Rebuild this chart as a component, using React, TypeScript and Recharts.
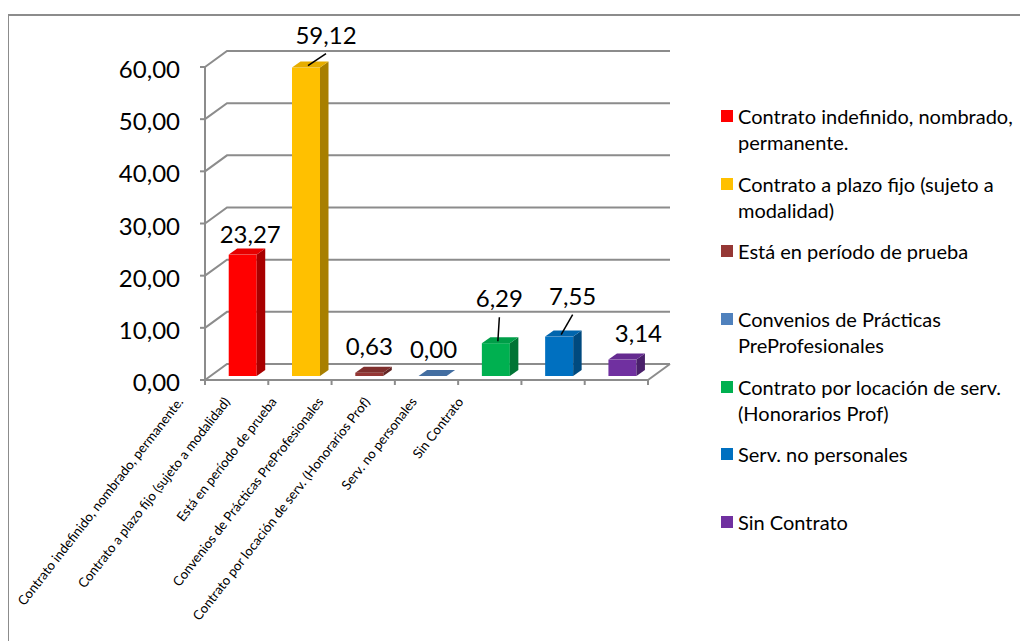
import React from 'react';
import { BarChart, Bar, XAxis, YAxis, CartesianGrid, Cell, LabelList } from 'recharts';

const categories = [
  'Contrato indefinido, nombrado, permanente.',
  'Contrato a plazo fijo (sujeto a modalidad)',
  'Está en período de prueba',
  'Convenios de Prácticas PreProfesionales',
  'Contrato por locación de serv. (Honorarios Prof)',
  'Serv. no personales',
  'Sin Contrato',
];
const values = [23.27, 59.12, 0.63, 0.0, 6.29, 7.55, 3.14];
const yTicks = [0, 10, 20, 30, 40, 50, 60];
const colors = ['#FF0000', '#FFC000', '#953735', '#4F81BD', '#00B050', '#0070C0', '#7030A0'];
// data label nudges (style) and leader-line flags
const labelNudges: [number, number][] = [[7.5, 6], [20, -6], [0, 0], [1, 0], [3.5, -18], [13.5, -14], [16, 0]];
const hasLeader = [false, true, false, false, true, true, false];

const data = categories.map((name, i) => ({ name, value: values[i] }));

const FONT = 'Lato, "Open Sans", sans-serif';
const GRID = '#8c8c8c';
const WALL_DX = 22;
const WALL_DY = -16;
const BAR_DX = 6;
const BAR_DY = -4;
const BAR_DEPTH_X = 8.5;
const BAR_DEPTH_Y = -6;

const fmt = (v: number) => v.toFixed(2).replace('.', ',');

function shade(hex: string, f: number) {
  const n = parseInt(hex.slice(1), 16);
  const r = Math.round(((n >> 16) & 255) * f);
  const g = Math.round(((n >> 8) & 255) * f);
  const b = Math.round((n & 255) * f);
  return `rgb(${r},${g},${b})`;
}

const Bar3D = (props: any) => {
  const { x, y, width, height, fill } = props;
  if (x == null || y == null) return null;
  const fx = x + BAR_DX;
  const fy = y + BAR_DY;
  const w = width;
  const h = Math.max(0, height);
  const top = `M${fx},${fy} L${fx + BAR_DEPTH_X},${fy + BAR_DEPTH_Y} L${fx + w + BAR_DEPTH_X},${fy + BAR_DEPTH_Y} L${fx + w},${fy} Z`;
  const side = `M${fx + w},${fy} L${fx + w + BAR_DEPTH_X},${fy + BAR_DEPTH_Y} L${fx + w + BAR_DEPTH_X},${fy + h + BAR_DEPTH_Y} L${fx + w},${fy + h} Z`;
  return (
    <g>
      {h > 0 && <rect x={fx} y={fy} width={w} height={h} fill={fill} />}
      {h > 0 && <path d={side} fill={shade(fill, 0.66)} />}
      <path d={top} fill={shade(fill, h > 4 ? 0.9 : 0.85)} />
    </g>
  );
};

const DataLabel = (props: any) => {
  const { x, y, width, index, value } = props;
  if (x == null) return null;
  const [ndx, ndy] = labelNudges[index] || [0, 0];
  const cx = x + BAR_DX + width / 2;
  const topY = y + BAR_DY;
  const lx = cx + ndx;
  const ly = topY - 18 + ndy;
  return (
    <g>
      {hasLeader[index] && (
        <line x1={cx + 2} y1={topY - 2} x2={lx} y2={ly + 10} stroke="#000" strokeWidth={1.5} />
      )}
      <text x={lx} y={ly} textAnchor="middle" fontSize={24} fontFamily={FONT} fill="#000">
        {fmt(Number(value))}
      </text>
    </g>
  );
};

const YTick = (props: any) => {
  const { x, y, payload } = props;
  return (
    <text x={x} y={y} dy={11} textAnchor="end" fontSize={24} fontFamily={FONT} fill="#000">
      {fmt(payload.value)}
    </text>
  );
};

const LABEL_SHIFT = 52.6;
const LABEL_SQUEEZE = 16.6;

const XTick = (props: any) => {
  const { x, y, payload, index, width, visibleTicksCount } = props;
  const count = visibleTicksCount || categories.length;
  const step = width ? width / count : 63.3;
  const left = x - step / 2;
  const right = x + step / 2;
  const isLast = index === count - 1;
  const lx = x - (LABEL_SHIFT + index * LABEL_SQUEEZE);
  const ly = y + 22;
  return (
    <g>
      <line x1={left} y1={y} x2={left} y2={y + 5} stroke={GRID} strokeWidth={2} />
      {isLast && <line x1={right} y1={y} x2={right} y2={y + 5} stroke={GRID} strokeWidth={2} />}
      {isLast && (
        <line x1={right} y1={y} x2={right + WALL_DX} y2={y + WALL_DY} stroke={GRID} strokeWidth={2} />
      )}
      <text
        transform={`translate(${lx},${ly}) rotate(-52)`}
        textAnchor="end"
        fontSize={13.3}
        fontFamily={FONT}
        fill="#000"
      >
        {payload.value}
      </text>
    </g>
  );
};

const gridLine = (props: any) => {
  const { x1, y1, x2 } = props;
  const d = `M${x1},${y1} L${x1 + WALL_DX},${y1 + WALL_DY} L${x2 + WALL_DX},${y1 + WALL_DY}`;
  return <path key={`g-${y1}`} d={d} fill="none" stroke={GRID} strokeWidth={2} />;
};

export default function App() {
  return (
    <div
      style={{
        position: 'relative',
        marginTop: 6,
        marginLeft: -1,
        width: 1021,
        height: 627,
        borderTop: `2px solid ${GRID}`,
        borderLeft: `2px solid ${GRID}`,
        boxSizing: 'border-box',
        fontFamily: FONT,
        background: '#fff',
      }}
    >
      <style>{'html,body{overflow:hidden;}'}</style>
      <BarChart
        width={1010}
        height={625}
        data={data}
        margin={{ top: 51, right: 371, left: 0, bottom: 61 }}
        barCategoryGap="28%"
      >
        <CartesianGrid vertical={false} horizontal={gridLine} />
        <XAxis
          dataKey="name"
          interval={0}
          height={200}
          tickSize={0}
          tickMargin={0}
          tickLine={false}
          axisLine={{ stroke: GRID, strokeWidth: 2 }}
          tick={<XTick />}
        />
        <YAxis
          domain={[0, 60]}
          ticks={yTicks}
          interval={0}
          width={196}
          tickSize={5}
          tickMargin={20}
          axisLine={{ stroke: GRID, strokeWidth: 2 }}
          tickLine={{ stroke: GRID, strokeWidth: 2 }}
          tick={<YTick />}
        />
        <Bar dataKey="value" shape={<Bar3D />} isAnimationActive={false}>
          {data.map((d, i) => (
            <Cell key={d.name} fill={colors[i]} />
          ))}
          <LabelList dataKey="value" content={<DataLabel />} />
        </Bar>
      </BarChart>
      <div style={{ position: 'absolute', left: 712, top: 87, width: 300 }}>
        {categories.map((c, i) => (
          <div key={c} style={{ height: 67.7, display: 'flex', alignItems: 'flex-start' }}>
            <span
              style={{
                width: 12,
                height: 12,
                background: colors[i],
                marginTop: 7,
                marginRight: 5,
                flex: 'none',
              }}
            />
            <span style={{ fontSize: 20, lineHeight: '26px', width: 284, color: '#000' }}>{c}</span>
          </div>
        ))}
      </div>
    </div>
  );
}
